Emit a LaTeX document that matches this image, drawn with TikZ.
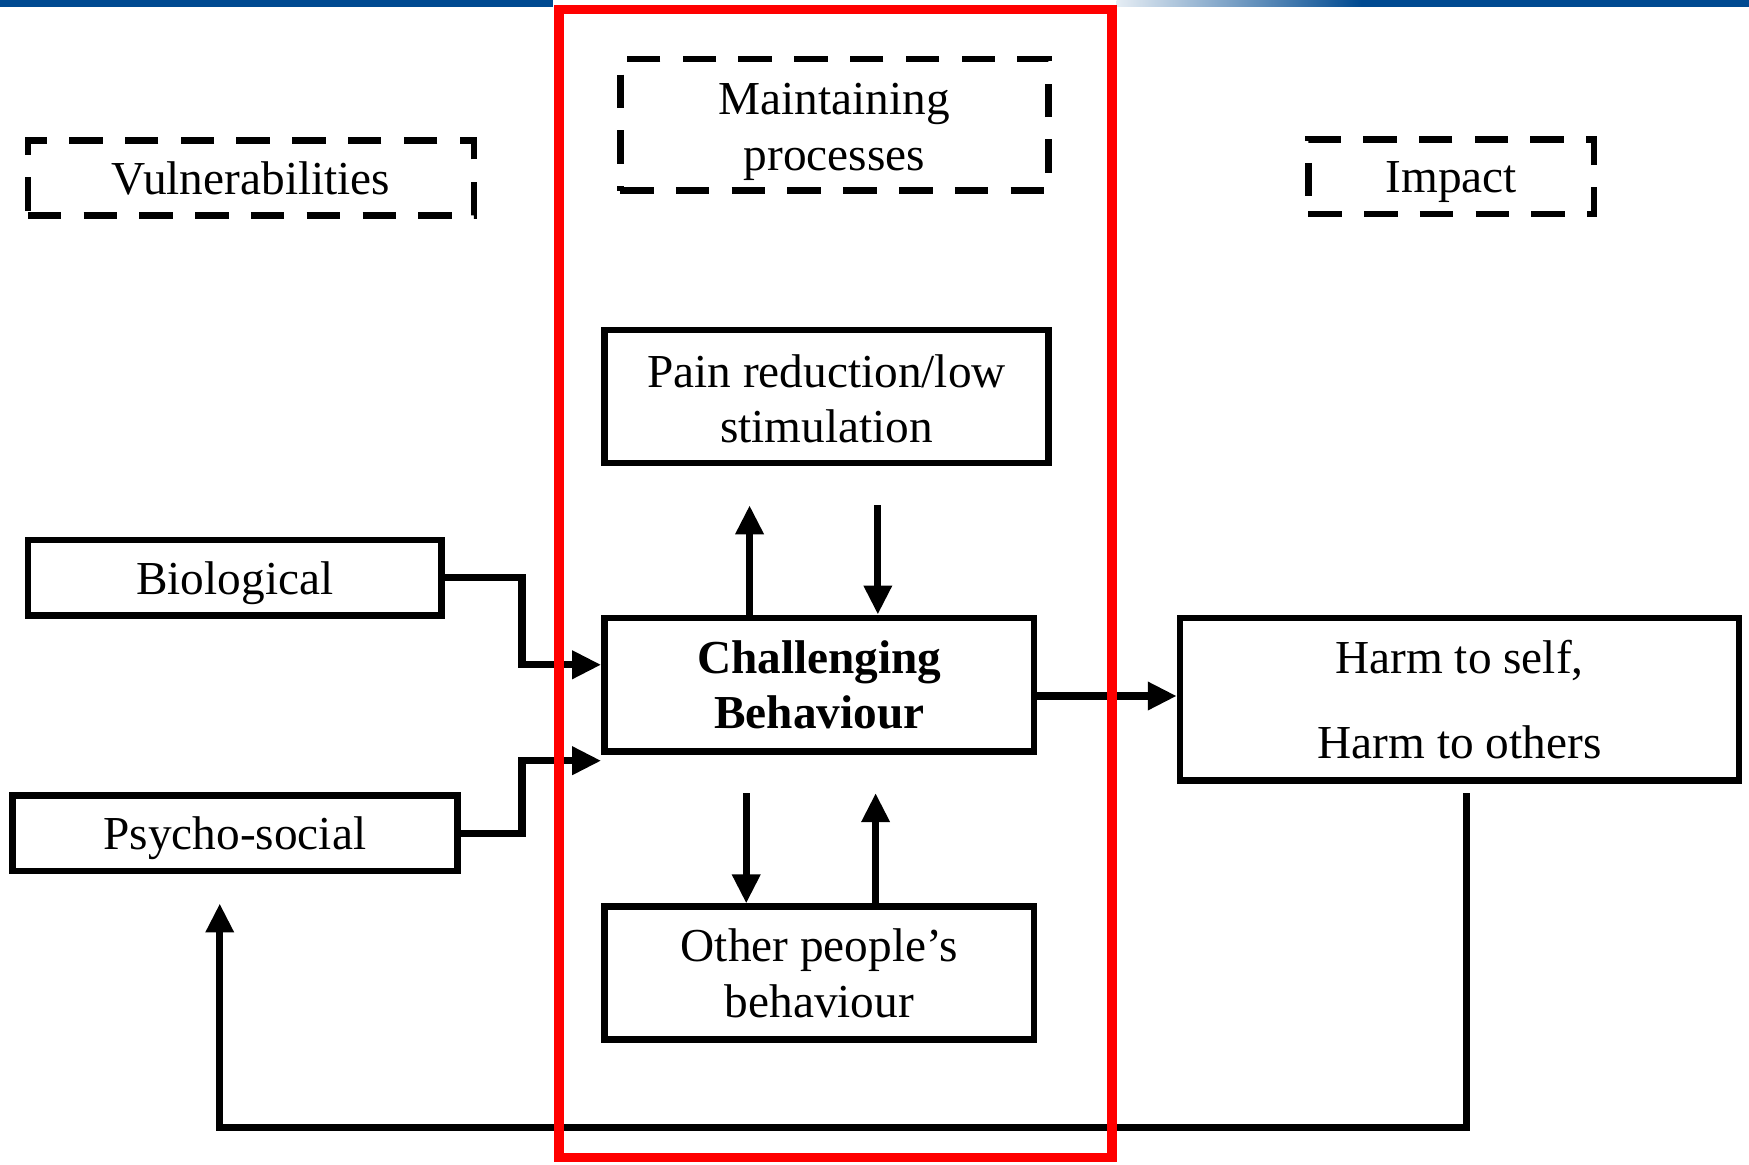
\documentclass[tikz,border=0pt]{standalone}
\usepackage{fontspec}
\setmainfont{Liberation Serif}
\usetikzlibrary{arrows.meta}
\definecolor{barblue}{RGB}{0,74,145}
\newcommand{\lowerby}[2]{\raisebox{-#1}[\height][\depth]{#2}}
\begin{document}
\begin{tikzpicture}[x=0.25pt,y=-0.25pt,
  txt/.style={font=\fontsize{10.6}{12.5}\selectfont},
  box/.style={draw,line width=1.5pt,align=center,inner sep=0pt,txt},
  onebox/.style={box,text depth=0pt},
  dbox/.style={box,dash pattern=on 7.5pt off 5pt},
  arr/.style={line width=1.6pt,-{Triangle[length=6.5pt,width=6pt]}},
  redframe/.style={draw=red,line width=2.1pt}
  ]
\useasboundingbox (0,0) rectangle (1568,1044);
% top bar
\fill[barblue] (0,0) rectangle (496,6);
\fill[barblue] (1001,0) rectangle (1568,6);
\shade[left color=barblue!10,right color=barblue] (1001,0) rectangle (1220,6);

% headings
\node[dbox,text depth=0pt,minimum width=100pt,minimum height=16.75pt] (vul) at (225,159.5) {Vulnerabilities};
\node[dbox,minimum width=96pt,minimum height=29.5pt] (mai) at (748,112) {\lowerby{1.5pt}{Maintaining}\\\lowerby{1.5pt}{processes}};
\node[dbox,text depth=0pt,minimum width=64pt,minimum height=16.75pt] (imp) at (1301,158.5) {Impact};

% boxes
\node[box,minimum width=99.5pt,minimum height=29.75pt] (pain) at (741,355.5) {\lowerby{0.5pt}{Pain reduction/low}\\\lowerby{0.5pt}{stimulation}};
\node[box,minimum width=96.25pt,minimum height=30pt,font=\fontsize{10.6}{12.5}\selectfont\bfseries] (cb) at (734.5,614) {Challenging\\Behaviour};
\node[box,minimum width=96.25pt,minimum height=29.75pt] (oth) at (734.5,872.5) {Other people’s\\behaviour};
\node[onebox,minimum width=92.75pt,minimum height=17pt] (bio) at (210.5,518) {Biological};
\node[onebox,minimum width=99.75pt,minimum height=17pt] (psy) at (210.5,747) {Psycho-social};
\node[box,minimum width=125.25pt,minimum height=36.5pt] (harm) at (1308.5,627) {Harm to self,\\[6.5pt]Harm to others};

% helper coordinates
\coordinate (b1) at (468,596);
\coordinate (p1) at (468,682);
\coordinate (pu) at (672,453);
\coordinate (pd) at (787,453);
\coordinate (od) at (669,711);
\coordinate (ou) at (785,711);
\coordinate (h1) at (930,624);
\coordinate (fb) at (1315,711);
\coordinate (fl) at (197,1011);
\coordinate (ft) at (197,810);

% connectors
\draw[arr] (bio.east) -| (b1) -- (b1 -| cb.west);
\draw[arr] (psy.east) -| (p1) -- (p1 -| cb.west);
\draw[arr] (cb.north -| pu) -- (pu);
\draw[arr] (pd) -- (pd |- cb.north);
\draw[arr] (od) -- (od |- oth.north);
\draw[arr] (ou |- oth.north) -- (ou);
\draw[arr] (cb.east |- h1) -- (harm.west |- h1);
\draw[arr] (fb) -- (fb |- fl) -- (fl) -- (ft);

% red frame
\draw[redframe] (501,8.5) rectangle (997,1038);
\end{tikzpicture}
\end{document}
